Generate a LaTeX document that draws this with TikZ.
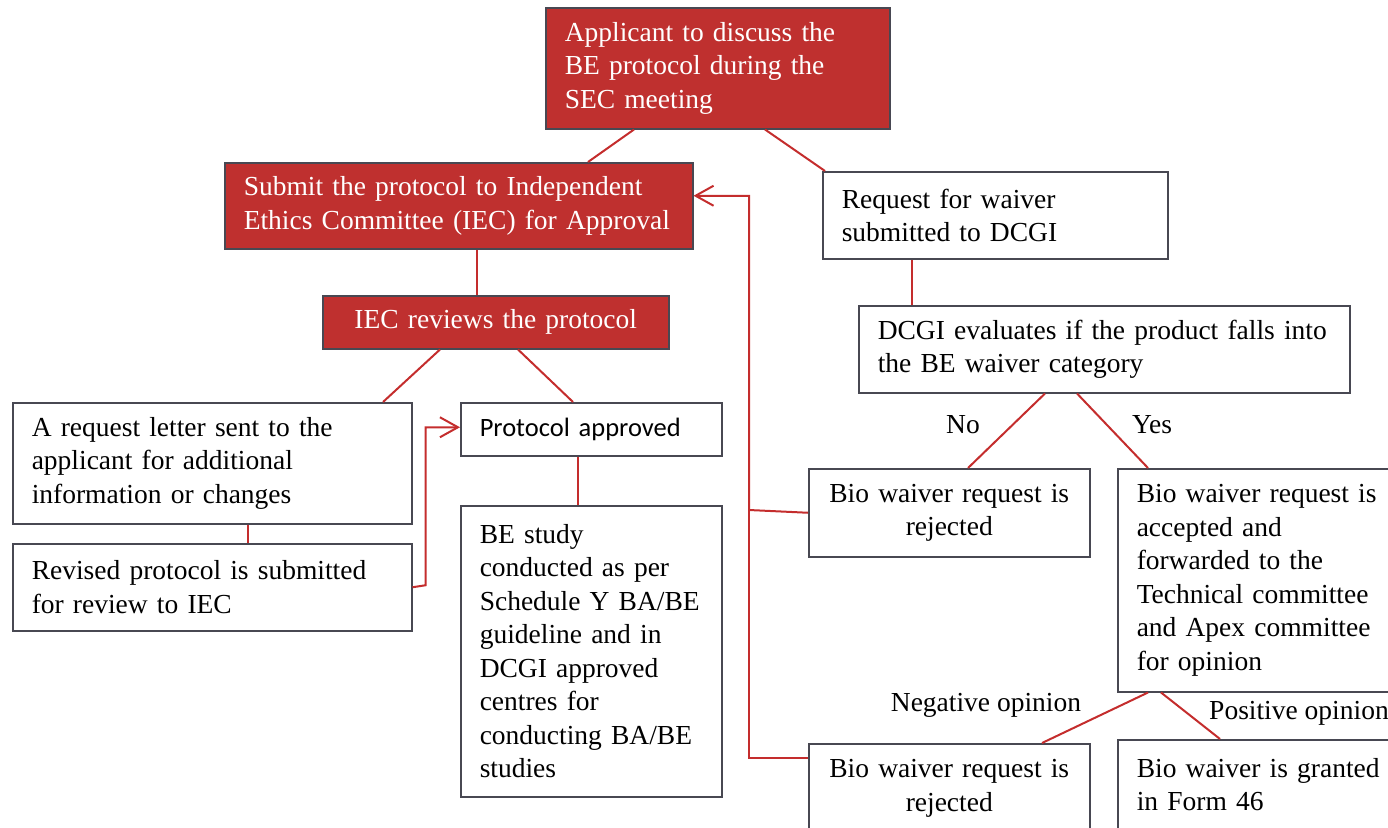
\documentclass[tikz,border=0pt]{standalone}
\usepackage{fontspec}
\setmainfont{Liberation Serif}
\newfontfamily\calib{Carlito}
\usetikzlibrary{arrows.meta}
\definecolor{boxred}{RGB}{191,48,47}
\definecolor{linered}{RGB}{196,45,45}
\definecolor{edgegrey}{RGB}{72,72,82}
\newcommand{\txtfont}{\fontsize{27.5}{33.5}\selectfont\spaceskip=\fontdimen2\font\relax\hyphenpenalty=10000\relax}
\tikzset{
  box/.style={draw=edgegrey, line width=1.5pt, anchor=north west, inner xsep=19pt, inner ysep=2pt,
    align=left, font=\txtfont},
  redbox/.style={box, fill=boxred, text=white},
  cbox/.style={box, align=center, inner xsep=8pt},
  conn/.style={draw=linered, line width=2pt},
  arr/.style={conn, -{Straight Barb[length=18pt,width=20pt,line width=2pt]}},
  lbl/.style={font=\txtfont, inner sep=0pt}
}
\begin{document}
\begin{tikzpicture}[x=1pt,y=-1pt]
\useasboundingbox (0,0) rectangle (1388,827);
% boxes
\node[redbox, minimum width=344pt, minimum height=121pt, text width=306pt] (top) at (545,7)
  {Applicant to discuss the\\BE protocol during the\\SEC meeting};
\node[redbox, minimum width=468pt, minimum height=86pt, text width=430pt] (submit) at (224,162)
  {Submit the protocol to Independent\\Ethics Committee (IEC) for Approval};
\node[redbox, cbox, minimum width=346pt, minimum height=53pt, text width=330pt] (iec) at (322,295)
  {IEC reviews the protocol};
\node[box, minimum width=345pt, minimum height=87pt, text width=307pt] (req) at (822,171)
  {Request for waiver\\submitted to DCGI};
\node[box, minimum width=491pt, minimum height=87pt, text width=453pt] (dcgi) at (858,305)
  {DCGI evaluates if the product falls into\\the BE waiver category};
\node[box, minimum width=399pt, minimum height=121pt, text width=361pt] (letter) at (12,402)
  {A request letter sent to the\\applicant for additional\\information or changes};
\node[box, minimum width=261pt, minimum height=53pt, text width=223pt, font=\calib\fontsize{26.5}{32}\selectfont] (approved) at (460,402)
  {Protocol approved};
\node[box, minimum width=399pt, minimum height=87pt, text width=361pt] (revised) at (12,543)
  {Revised protocol is submitted\\for review to IEC};
\node[box, minimum width=261pt, minimum height=291pt, text width=223pt] (be) at (460,505)
  {BE study\\conducted as per\\Schedule Y BA/BE\\guideline and in\\DCGI approved\\centres for\\conducting BA/BE\\studies};
\node[cbox, minimum width=281pt, minimum height=88pt, text width=265pt] (rej1) at (808,468)
  {Bio waiver request is\\rejected};
\node[box, minimum width=285pt, minimum height=223pt, text width=250pt] (acc) at (1117,468)
  {Bio waiver request is\\accepted and\\forwarded to the\\Technical committee\\and Apex committee\\for opinion};
\node[cbox, minimum width=281pt, minimum height=89pt, text width=265pt] (rej2) at (808,743)
  {Bio waiver request is\\rejected};
\node[box, minimum width=285pt, minimum height=90pt, text width=250pt] (granted) at (1117,739)
  {Bio waiver is granted\\in Form 46};
% labels
\node[lbl] (no) at (963,425) {No};
\node[lbl] (yes) at (1152,425) {Yes};
\node[lbl] (neg) at (986,705) {Negative opinion};
\node[lbl, anchor=west] (pos) at (1209,713) {Positive opinion};
% connectors
\draw[conn] ([xshift=89pt]top.south west) -- ([xshift=364pt]submit.north west);
\draw[conn] ([xshift=220pt]top.south west) -- ([xshift=3pt]req.north west);
\draw[conn] ([xshift=253pt]submit.south west) -- ([xshift=155pt]iec.north west);
\draw[conn] ([xshift=118pt]iec.south west) -- ([xshift=371pt]letter.north west);
\draw[conn] ([xshift=196pt]iec.south west) -- ([xshift=113pt]approved.north west);
\draw[conn] ([xshift=236pt]letter.south west) -- ([xshift=236pt]revised.north west);
\draw[arr] (revised.east) -- ++(13,-2) |- ([yshift=2pt]approved.west);
\draw[conn] ([xshift=118pt]approved.south west) -- ([xshift=118pt]be.north west);
\draw[conn] ([xshift=90pt]req.south west) -- ([xshift=54pt]dcgi.north west);
\draw[conn] ([xshift=187pt]dcgi.south west) -- ([xshift=160pt]rej1.north west);
\draw[conn] ([xshift=219pt]dcgi.south west) -- ([xshift=31pt]acc.north west);
\draw[conn] ([xshift=31pt]acc.south west) -- ([xshift=234pt]rej2.north west);
\draw[conn] ([xshift=44pt]acc.south west) -- ([xshift=103pt]granted.north west);
\coordinate (bus) at (749,510);
\draw[arr] (rej1.west) -- (bus) |- ([yshift=10pt]submit.east);
\draw[conn] ([yshift=30pt]rej2.west) -| (bus);
\end{tikzpicture}
\end{document}
